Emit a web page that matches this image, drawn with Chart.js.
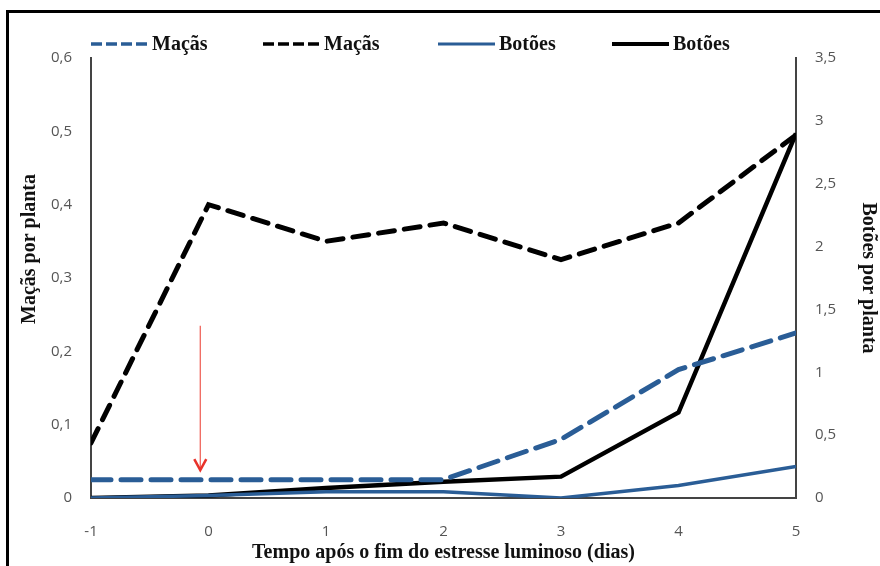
<!DOCTYPE html>
<html>
<head>
<meta charset="utf-8">
<script src="https://cdn.jsdelivr.net/npm/chart.js@4.4.1/dist/chart.umd.min.js"></script>
<style>
    html, body { margin: 0; padding: 0; background: #fff; }
    #wrap { position: relative; width: 880px; height: 566px; }
    #frame { position: absolute; left: 6px; top: 10px; width: 880px; height: 570px; border: 3px solid #000; box-sizing: border-box; pointer-events: none; }
</style>
</head>
<body>
<div id="wrap">
    <canvas id="chart" width="880" height="566"></canvas>
    <div id="frame"></div>
</div>
<script>
// dias após o fim do estresse luminoso
const days = [-1, 0, 1, 2, 3, 4, 5];

// eixo esquerdo (maçãs por planta)
const macasAzul = [0.025, 0.025, 0.025, 0.025, 0.08, 0.175, 0.225];
const macasPreto = [0.075, 0.4, 0.35, 0.375, 0.325, 0.375, 0.495];

// eixo direito (botões por planta)
const botoesAzul = [0, 0.02, 0.05, 0.05, 0, 0.1, 0.25];
const botoesPreto = [0, 0.02, 0.08, 0.13, 0.17, 0.68, 2.9];

const seriesLabels = ['Maçãs', 'Maçãs', 'Botões', 'Botões'];

// seta vermelha (fim do estresse)
const arrowX = -0.07;
const arrowFrom = 0.235;
const arrowTo = 0.038;

const BLUE = '#2a5d96';
const SERIF = '"Liberation Serif", "DejaVu Serif", serif';
const tickFont = { family: '"Open Sans", Lato, sans-serif', size: 15 };
const titleFont = { family: SERIF, size: 20, weight: 'bold' };

const fmt = v => String(Math.round(v * 10) / 10).replace('.', ',');

function toPoints(vals) {
    return days.map((d, i) => ({ x: d, y: vals[i] }));
}

// legenda desenhada à mão (linhas tracejadas)
const legendPlugin = {
    id: 'lineLegend',
    afterDraw(chart) {
        const ctx = chart.ctx;
        const starts = [91, 263, 438, 612];
        const y = 44;
        ctx.save();
        chart.data.datasets.forEach((ds, i) => {
            const x0 = starts[i];
            ctx.beginPath();
            ctx.strokeStyle = ds.borderColor;
            ctx.lineWidth = ds.borderDash.length ? 3.5 : ds.borderWidth - 0.5;
            ctx.setLineDash(ds.borderDash.length ? [11, 4] : []);
            ctx.moveTo(x0, y);
            ctx.lineTo(x0 + 57, y);
            ctx.stroke();
            ctx.setLineDash([]);
            ctx.fillStyle = '#111';
            ctx.font = 'bold 20px ' + SERIF;
            ctx.textBaseline = 'middle';
            ctx.fillText(ds.label, x0 + 61, y + 1);
        });

        // título do eixo esquerdo
        ctx.translate(30, 249);
        ctx.rotate(-Math.PI / 2);
        ctx.font = 'bold 20px ' + SERIF;
        ctx.textAlign = 'center';
        ctx.textBaseline = 'middle';
        ctx.fillText('Maçãs por planta', 0, 0);
        ctx.restore();
    }
};

const arrowPlugin = {
    id: 'arrow',
    afterDatasetsDraw(chart) {
        const ctx = chart.ctx;
        const x = chart.scales.x.getPixelForValue(arrowX);
        const y1 = chart.scales.y.getPixelForValue(arrowFrom);
        const y2 = chart.scales.y.getPixelForValue(arrowTo);
        ctx.save();
        ctx.strokeStyle = '#ee5a4f';
        ctx.lineWidth = 1.2;
        ctx.beginPath();
        ctx.moveTo(x, y1);
        ctx.lineTo(x, y2);
        ctx.stroke();
        ctx.strokeStyle = '#e8322a';
        ctx.lineWidth = 2.5;
        ctx.beginPath();
        ctx.moveTo(x - 6, y2 - 11);
        ctx.lineTo(x, y2);
        ctx.lineTo(x + 6, y2 - 11);
        ctx.stroke();
        ctx.restore();
    }
};

const ctx = document.getElementById('chart').getContext('2d');
new Chart(ctx, {
    type: 'line',
    data: {
        datasets: [
            { label: seriesLabels[0], data: toPoints(macasAzul), yAxisID: 'y', borderColor: BLUE, borderWidth: 5, borderDash: [20, 10], borderCapStyle: 'round' },
            { label: seriesLabels[1], data: toPoints(macasPreto), yAxisID: 'y', borderColor: '#000', borderWidth: 5, borderDash: [16, 10], borderCapStyle: 'round' },
            { label: seriesLabels[2], data: toPoints(botoesAzul), yAxisID: 'y2', borderColor: BLUE, borderWidth: 3.5, borderDash: [] },
            { label: seriesLabels[3], data: toPoints(botoesPreto), yAxisID: 'y2', borderColor: '#000', borderWidth: 4.5, borderDash: [] }
        ]
    },
    options: {
        responsive: false,
        animation: false,
        layout: { padding: { top: 58, left: 0, right: 0, bottom: 0 } },
        elements: { point: { radius: 0 }, line: { tension: 0, borderJoinStyle: 'miter' } },
        plugins: { legend: { display: false }, tooltip: { enabled: false } },
        scales: {
            x: {
                type: 'linear', min: -1, max: 5,
                afterFit(s) { s.height = 68; },
                border: { color: '#444', width: 2 },
                grid: { display: false, drawOnChartArea: false, drawTicks: true, tickLength: 5, tickColor: '#444' },
                ticks: { stepSize: 1, font: tickFont, color: '#555', padding: 20 },
                title: { display: true, text: 'Tempo após o fim do estresse luminoso (dias)', font: titleFont, color: '#111', padding: { top: 0, bottom: 1 } }
            },
            y: {
                position: 'left', min: 0, max: 0.6,
                afterFit(s) { s.width = 91; },
                border: { color: '#444', width: 2 },
                grid: { display: false, drawOnChartArea: false, drawTicks: true, tickLength: 5, tickColor: '#444' },
                ticks: { stepSize: 0.1, font: tickFont, color: '#555', padding: 14, callback: v => fmt(v) },
                title: { display: false }
            },
            y2: {
                position: 'right', min: 0, max: 3.5,
                afterFit(s) { s.width = 84; },
                border: { color: '#444', width: 2 },
                grid: { display: false, drawOnChartArea: false, drawTicks: true, tickLength: 5, tickColor: '#444' },
                ticks: { stepSize: 0.5, font: tickFont, color: '#555', padding: 14, callback: v => fmt(v) },
                title: { display: true, text: 'Botões por planta', font: titleFont, color: '#111', padding: { top: 0, bottom: 9 } }
            }
        }
    },
    plugins: [legendPlugin, arrowPlugin]
});
</script>
</body>
</html>
